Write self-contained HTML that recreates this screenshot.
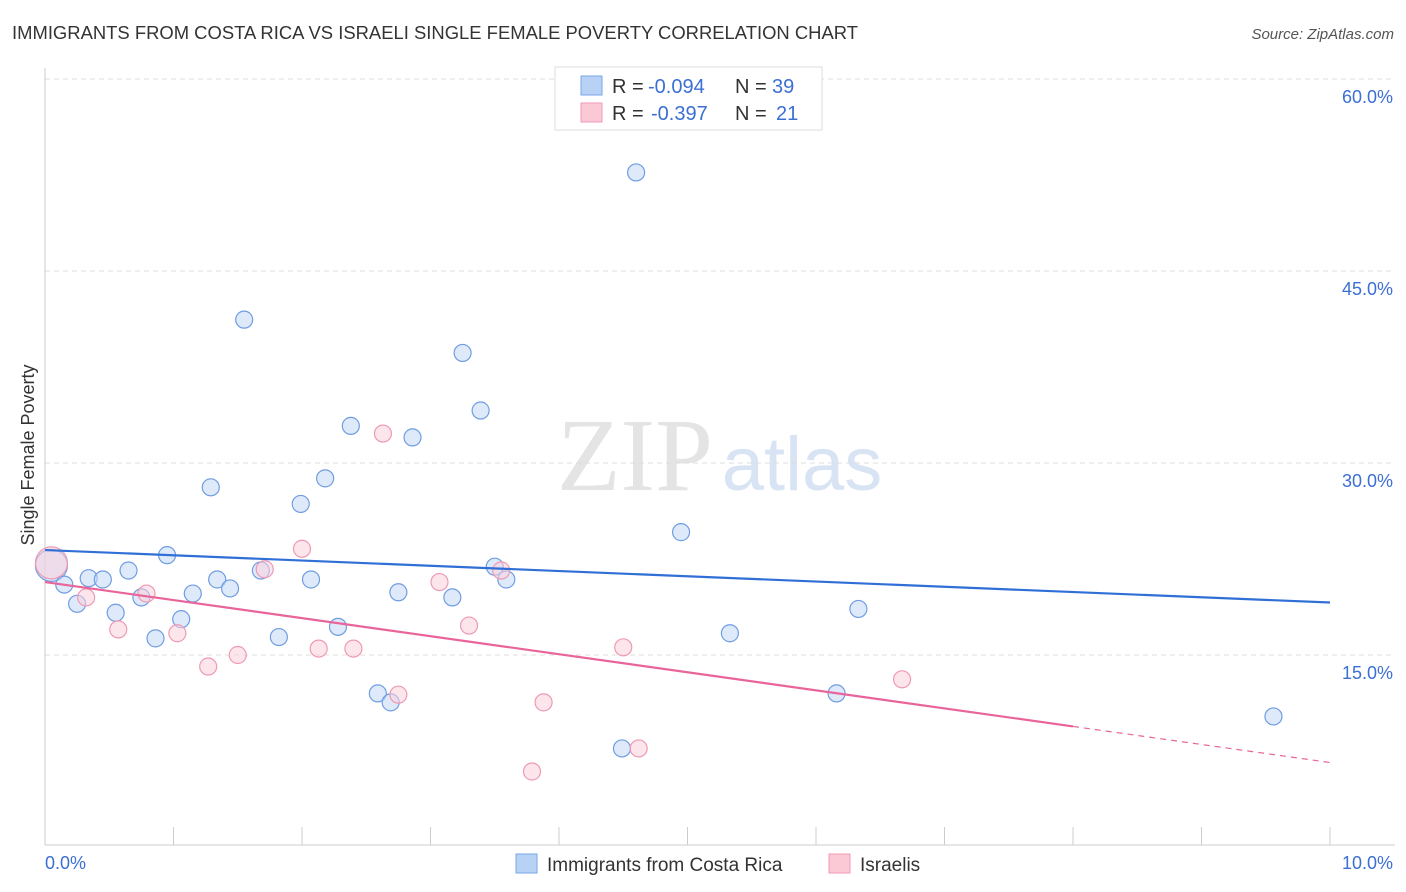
<!DOCTYPE html>
<html><head><meta charset="utf-8"><style>
body{margin:0;background:#fff;font-family:"Liberation Sans",sans-serif;}
svg{display:block}
</style></head><body>
<svg id="chart" width="1406" height="892">
<text x="12" y="39" font-size="18" fill="#333" textLength="846" lengthAdjust="spacingAndGlyphs">IMMIGRANTS FROM COSTA RICA VS ISRAELI SINGLE FEMALE POVERTY CORRELATION CHART</text>
<text x="1394" y="39" font-size="15" fill="#555" font-style="italic" text-anchor="end">Source: ZipAtlas.com</text>
<g><text x="635" y="490" font-size="104" fill="#e4e4e4" font-family="Liberation Serif,serif" text-anchor="middle">ZIP</text><text x="802" y="490" font-size="76" fill="#d8e4f4" text-anchor="middle">atlas</text></g>
<g id="grid"></g><g id="axes"></g><g id="marks"></g>
<text transform="translate(34,455) rotate(-90)" font-size="18" fill="#333" text-anchor="middle">Single Female Poverty</text>
<text x="45" y="869" font-size="18" fill="#3b6fd4">0.0%</text>
<text x="1393" y="869" font-size="18" fill="#3b6fd4" text-anchor="end">10.0%</text>
<g>
<rect x="555" y="67" width="267" height="63" fill="#fff" stroke="#ddd"/>
<rect x="581" y="76" width="21" height="19" fill="#b8d2f5" stroke="#7aa6e8"/>
<rect x="581" y="103" width="21" height="19" fill="#fbc8d6" stroke="#f09ab4"/>
<text x="612" y="93" font-size="20" fill="#333">R = <tspan fill="#3b6fd4" x="648">-0.094</tspan><tspan x="735">N = </tspan><tspan fill="#3b6fd4" x="772">39</tspan></text>
<text x="612" y="120" font-size="20" fill="#333">R = <tspan fill="#3b6fd4" x="651">-0.397</tspan><tspan x="735">N = </tspan><tspan fill="#3b6fd4" x="776">21</tspan></text>
</g>
<g>
<rect x="516" y="854" width="21" height="19" fill="#b8d2f5" stroke="#7aa6e8"/>
<text x="547" y="871" font-size="19" fill="#333">Immigrants from Costa Rica</text>
<rect x="829" y="854" width="21" height="19" fill="#fbc8d6" stroke="#f09ab4"/>
<text x="860" y="871" font-size="19" fill="#333">Israelis</text>
</g>
</svg>
<script>
const yTicks=[15,30,45,60];
const yTickLabels=["15.0%","30.0%","45.0%","60.0%"];
const xTicks=[0,1,2,3,4,5,6,7,8,9,10];
const blueX=[0.05,0.15,0.25,0.34,0.45,0.55,0.65,0.75,0.86,0.95,1.06,1.15,1.29,1.34,1.44,1.55,1.68,1.82,1.99,2.07,2.18,2.28,2.38,2.59,2.69,2.75,2.86,3.17,3.25,3.39,3.50,3.59,4.49,4.60,4.95,5.33,6.16,6.33,9.56];
const blueY=[22.0,20.5,19.0,21.0,20.9,18.3,21.6,19.5,16.3,22.8,17.8,19.8,28.1,20.9,20.2,41.2,21.6,16.4,26.8,20.9,28.8,17.2,32.9,12.0,11.3,19.9,32.0,19.5,38.6,34.1,21.9,20.9,7.7,52.7,24.6,16.7,12.0,18.6,10.2];
const pinkX=[0.05,0.32,0.57,0.79,1.03,1.27,1.50,1.71,2.0,2.13,2.40,2.63,2.75,3.07,3.30,3.55,3.79,3.88,4.50,4.62,6.67];
const pinkY=[22.2,19.5,17.0,19.8,16.7,14.1,15.0,21.7,23.3,15.5,15.5,32.3,11.9,20.7,17.3,21.6,5.9,11.3,15.6,7.7,13.1];
const blueTrend=[23.2,19.1];
const pinkTrend=[20.7,6.6];
const pinkSolidEnd=8.0;
const NS="http://www.w3.org/2000/svg";
const X=v=>45+v*128.5, Y=v=>847-v*12.8;
function mk(t,a,p){const e=document.createElementNS(NS,t);for(const k in a)e.setAttribute(k,a[k]);p.appendChild(e);return e;}
const grid=document.getElementById('grid'),axes=document.getElementById('axes'),marks=document.getElementById('marks');
yTicks.forEach((t,i)=>{
 const l=mk('line',{x1:45,x2:1395,y1:Y(t),y2:Y(t),stroke:'#ddd','stroke-dasharray':'5,4'},grid);
 
 
 const tx=mk('text',{x:1393,y:Y(t)+24,'font-size':18,fill:'#3b6fd4','text-anchor':'end'},grid);
 tx.textContent=yTickLabels[i];
 
 
});
const ya=mk('line',{x1:45,x2:45,y1:68,y2:845,stroke:'#ccc'},axes);


const xa=mk('line',{x1:45,x2:1395,y1:845,y2:845,stroke:'#ccc'},axes);


xTicks.forEach(t=>{
 const l=mk('line',{x1:X(t),x2:X(t),y1:827,y2:845,stroke:'#ccc'},axes);
 
 
});
function dots(xs,ys,fill,stroke,name){
 xs.forEach((x,i)=>{
  const r=i===0?16:8.5;
  const c=mk('circle',{cx:X(x),cy:Y(ys[i]),r:r,fill:fill,'fill-opacity':0.55,stroke:stroke,'stroke-width':1.2},marks);
  
  
 });
}
dots(blueX,blueY,'#c3d8f6','#6f9de3','point-costa-rica');
dots(pinkX,pinkY,'#fbd0dc','#ee9ab3','point-israelis');
const bt=mk('line',{x1:X(0),x2:X(10),y1:Y(blueTrend[0]),y2:Y(blueTrend[1]),stroke:'#2f6fd6','stroke-width':2.2},marks);


const pAt=x=>pinkTrend[0]+(pinkTrend[1]-pinkTrend[0])*x/10;
const ps=mk('line',{x1:X(0),x2:X(pinkSolidEnd),y1:Y(pinkTrend[0]),y2:Y(pAt(pinkSolidEnd)),stroke:'#e8649a','stroke-width':2.2},marks);


const pd=mk('line',{x1:X(pinkSolidEnd),x2:X(10),y1:Y(pAt(pinkSolidEnd)),y2:Y(pinkTrend[1]),stroke:'#e8649a','stroke-width':1.2,'stroke-dasharray':'6,5'},marks);


</script>
</body></html>
